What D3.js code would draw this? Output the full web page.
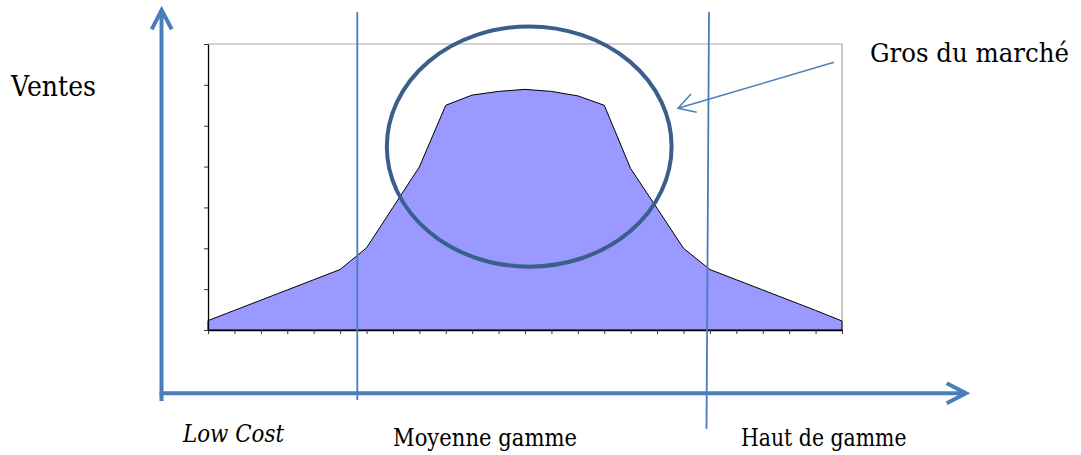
<!DOCTYPE html>
<html>
<head>
<meta charset="utf-8">
<script src="https://cdn.jsdelivr.net/npm/d3@7"></script>
<style>
  html, body { margin: 0; padding: 0; background: #ffffff; }
  svg { display: block; }
</style>
</head>
<body>
<svg id="chart" width="1081" height="455"></svg>
<script>
// ---- data ----
const categories = [1,2,3,4,5,6,7,8,9,10,11,12,13,14,15,16,17,18,19,20,21,22,23,24,25];
const ventes = [0.23,0.48,0.73,0.98,1.23,1.48,2.01,3.0,3.99,5.5,5.75,5.84,5.89,5.84,5.73,5.5,3.95,2.98,2.0,1.48,1.23,0.98,0.73,0.48,0.22];
const yTicks = [0,1,2,3,4,5,6,7];
const segmentLabels = ["Low Cost", "Moyenne gamme", "Haut de gamme"];
const yLabel = "Ventes";
const noteLabel = "Gros du marché";

// ---- layout ----
const svg = d3.select("#chart");
const plot = { left: 208, right: 842, top: 44, bottom: 330 };
const serif = "'DejaVu Serif'";

const x = d3.scalePoint().domain(categories).range([plot.left, plot.right]);
const y = d3.scaleLinear().domain([0, 7]).range([plot.bottom, plot.top]);
const xi = d3.scaleLinear().domain([0, categories.length - 1]).range([plot.left, plot.right]);

const blue = "#4A7EBB";
const darkBlue = "#3A5F8B";

svg.append("path")
  .attr("d", `M${plot.left},${plot.top}H${plot.right}V${plot.bottom}`)
  .attr("fill", "none").attr("stroke", "#a6a6a6").attr("stroke-width", 1.2);

const data = categories.map((c, i) => ({ c, v: ventes[i] }));
const area = d3.area().x(d => x(d.c)).y0(y(0)).y1(d => y(d.v));
svg.append("path").datum(data)
  .attr("d", area)
  .attr("fill", "#9999FF")
  .attr("stroke", "#000").attr("stroke-width", 1).attr("stroke-linejoin", "miter");

const yAxis = d3.axisLeft(y).tickValues(yTicks).tickFormat("").tickSizeInner(4).tickSizeOuter(0);
const gy = svg.append("g").attr("transform", `translate(${plot.left},0)`).call(yAxis);
const xAxis = d3.axisBottom(x).tickFormat("").tickSizeInner(4).tickSizeOuter(0);
const gx = svg.append("g").attr("transform", `translate(0,${plot.bottom})`).call(xAxis);
[gx, gy].forEach(g => {
  g.select(".domain").attr("stroke", "#000").attr("stroke-width", 1.3);
  g.selectAll(".tick line").attr("stroke", "#333").attr("stroke-width", 1);
});

const ell = { cx: 12.16, cy: 4.49, rx: 5.39, ry: 2.94 };
svg.append("ellipse")
  .attr("cx", xi(ell.cx)).attr("cy", y(ell.cy))
  .attr("rx", xi(ell.rx) - xi(0)).attr("ry", y(0) - y(ell.ry))
  .attr("fill", "none").attr("stroke", darkBlue).attr("stroke-width", 4);

svg.append("line").attr("x1", 357.3).attr("x2", 357.3).attr("y1", 12).attr("y2", 400)
  .attr("stroke", blue).attr("stroke-width", 1.8);
svg.append("line").attr("x1", 709).attr("x2", 706.5).attr("y1", 12).attr("y2", 429)
  .attr("stroke", blue).attr("stroke-width", 1.8);

svg.append("path").attr("d", "M161.5,401V10")
  .attr("stroke", blue).attr("stroke-width", 4).attr("fill", "none");
svg.append("path").attr("d", "M151.7,29.3L161.6,10L171.7,29.3")
  .attr("stroke", blue).attr("stroke-width", 4).attr("fill", "none").attr("stroke-linejoin", "miter");
svg.append("path").attr("d", "M159.5,393.3H965")
  .attr("stroke", blue).attr("stroke-width", 4).attr("fill", "none");
svg.append("path").attr("d", "M946.7,383.3L966,393.3L946.7,403.3")
  .attr("stroke", blue).attr("stroke-width", 4).attr("fill", "none").attr("stroke-linejoin", "miter");

svg.append("path").attr("d", "M834,62.3L678,108.3")
  .attr("stroke", blue).attr("stroke-width", 1.5).attr("fill", "none");
svg.append("path").attr("d", "M691,94L678,108.3L696.7,112.3")
  .attr("stroke", blue).attr("stroke-width", 1.5).attr("fill", "none");

// texts, fitted to the widths measured on the reference
const txt = (xp, yp, size, s, w, italic) => svg.append("text")
  .attr("x", xp).attr("y", yp)
  .attr("font-family", serif).attr("font-size", size)
  .attr("font-style", italic ? "italic" : "normal")
  .attr("textLength", w).attr("lengthAdjust", "spacingAndGlyphs")
  .attr("fill", "#000").text(s);
txt(11, 95.5, 28.5, yLabel, 85);
txt(870, 62.3, 25.5, noteLabel, 199);
txt(183, 441.5, 24.5, segmentLabels[0], 101, true);
txt(393, 446, 24.5, segmentLabels[1], 184);
txt(741, 446, 24.5, segmentLabels[2], 165.5);
</script>
</body>
</html>
